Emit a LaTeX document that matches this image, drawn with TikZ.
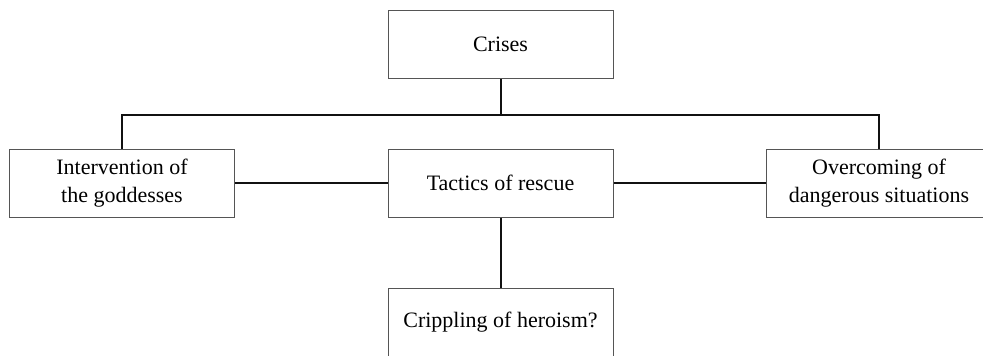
\documentclass[tikz,border=0pt]{standalone}
\usepackage{fontspec}
\setmainfont{Liberation Serif}
\usepackage{xcolor}
\usepackage{tikz}
\usetikzlibrary{positioning}
\definecolor{BoxLine}{HTML}{555555}
\definecolor{LinkLine}{HTML}{111111}
\tikzset{
  themebox/.style={draw=BoxLine,line width=0.5pt,fill=white,
    minimum width=112.5pt,minimum height=34pt,
    font=\fontsize{11}{14}\selectfont,align=center,inner sep=2pt},
  link/.style={line width=1pt,draw=LinkLine},
}
\begin{document}
\begin{tikzpicture}[x=0.5pt,y=-0.5pt]
  \useasboundingbox (0,0) rectangle (983,355);
  \begin{scope}
  \clip (0,0) rectangle (983,355);
  % Top node
  \node[themebox] (crises) at (500.5,44.5) {Crises};
  % Middle row
  \node[themebox] (goddesses) at (122,183) {Intervention of\\the goddesses};
  \node[themebox] (tactics) at (500.5,183) {Tactics of rescue};
  \node[themebox] (danger) at (879,183) {Overcoming of\\dangerous situations};
  % Bottom node
  \node[themebox] (heroism) at (500.5,322) {Crippling of heroism?};
  % Connectors
  \coordinate (bar) at (500.5,115);
  \draw[link] (crises.south) -- (bar);
  \draw[link] (goddesses.north) |- (bar) -| (danger.north);
  \draw[link] (goddesses.east) -- (tactics.west);
  \draw[link] (tactics.east) -- (danger.west);
  \draw[link] (tactics.south) -- (heroism.north);
  \end{scope}
\end{tikzpicture}
\end{document}
